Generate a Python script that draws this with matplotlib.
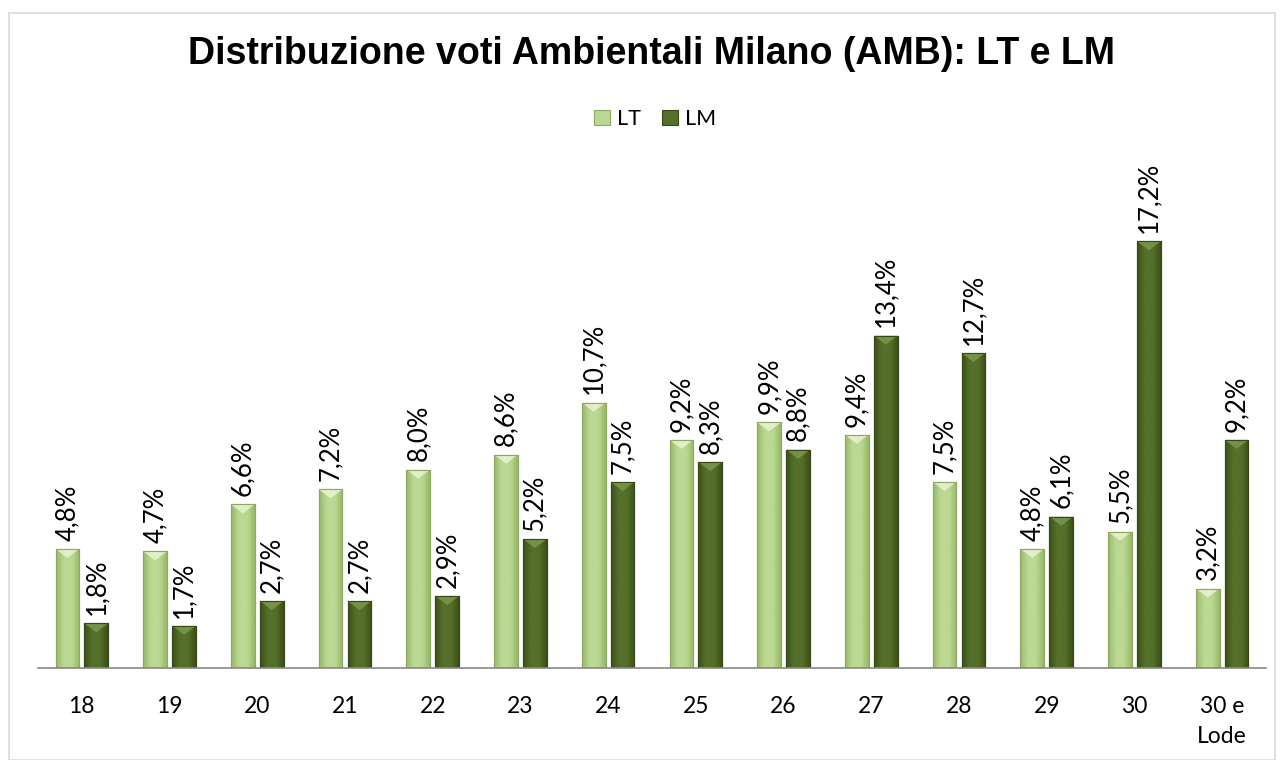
import matplotlib
matplotlib.use("Agg")
import matplotlib.pyplot as plt
import numpy as np
from matplotlib.patches import Polygon, Rectangle
from matplotlib.colors import LinearSegmentedColormap

categories = ["18", "19", "20", "21", "22", "23", "24", "25", "26", "27", "28", "29", "30", "30 e\nLode"]
lt_values = [4.8, 4.7, 6.6, 7.2, 8.0, 8.6, 10.7, 9.2, 9.9, 9.4, 7.5, 4.8, 5.5, 3.2]
lm_values = [1.8, 1.7, 2.7, 2.7, 2.9, 5.2, 7.5, 8.3, 8.8, 13.4, 12.7, 6.1, 17.2, 9.2]
series_names = ["LT", "LM"]
title = "Distribuzione voti Ambientali Milano (AMB): LT e LM"

W, H = 1284, 760
fig = plt.figure(figsize=(W / 100, H / 100), dpi=100)
fig.patch.set_facecolor("white")

# outer chart border
fig.add_artist(Rectangle((9 / W, 0), (1275 - 9) / W, (H - 13) / H, transform=fig.transFigure,
                         fill=False, edgecolor="#D9D9D9", linewidth=1.2))

ax = fig.add_axes([38 / W, (H - 668) / H, (1266 - 38) / W, (668 - 172) / H])
ax.set_xlim(-0.5, len(categories) - 0.5)
ax.set_ylim(0, 20)
for s in ["top", "right", "left"]:
    ax.spines[s].set_visible(False)
ax.spines["bottom"].set_color("#888888")
ax.spines["bottom"].set_linewidth(1.2)
ax.set_yticks([])
ax.set_xticks(np.arange(len(categories)))
ax.set_xticklabels(categories, fontfamily="Lato", fontsize=16.5, linespacing=1.55, va="top")
ax.tick_params(axis="x", length=0, pad=20)

x = np.arange(len(categories))
bw = 0.27
off = 0.165

styles = {
    "LT": dict(center="#BCD994", edge="#98B867", border="#8CA862", chev="#EAF5D6"),
    "LM": dict(center="#55702A", edge="#3B5018", border="#354816", chev="#7E9A50"),
}

def bevel_bars(xs, vals, name):
    st = styles[name]
    bars = ax.bar(xs, vals, width=bw, color=st["center"], edgecolor=st["border"], linewidth=0.8,
                  label=name, zorder=2)
    cmap = LinearSegmentedColormap.from_list(name, [st["edge"], st["center"], st["center"], st["edge"]])
    grad = np.linspace(0, 1, 64).reshape(1, -1)
    for b in bars:
        bx, bwid, bh = b.get_x(), b.get_width(), b.get_height()
        im = ax.imshow(grad, cmap=cmap, aspect="auto", extent=(bx, bx + bwid, 0, bh),
                       zorder=2.1, interpolation="bicubic")
        im.set_clip_path(b)
        dy = 9 * 20 / 496
        tri = Polygon([(bx, bh), (bx + bwid, bh), (bx + bwid * 0.5, bh - dy)], closed=True,
                      facecolor=st["chev"], edgecolor="none", alpha=0.8, zorder=2.2)
        ax.add_patch(tri)
        ax.add_patch(Rectangle((bx, 0), bwid, bh, fill=False, edgecolor=st["border"],
                               linewidth=0.8, zorder=2.3))
        ax.annotate(f"{bh:.1f}%".replace(".", ","), (bx + bwid / 2, bh), xytext=(0, 6),
                    textcoords="offset points", rotation=90, ha="center", va="bottom",
                    fontfamily="Lato", fontsize=18.5, color="black", zorder=3)
    return bars

b1 = bevel_bars(x - off, lt_values, "LT")
b2 = bevel_bars(x + off, lm_values, "LM")
ax.set_xlim(-0.5, len(categories) - 0.5)
ax.set_ylim(0, 20)

fig.text(652 / W, 1 - 54 / H, title, ha="center", va="center", fontfamily="Liberation Sans",
         fontweight="bold", fontsize=27)

leg = fig.legend(handles=[b1, b2], labels=series_names, loc="center", bbox_to_anchor=(655 / W, 1 - 119 / H),
                 ncol=2, frameon=False, prop=dict(family="Lato", size=15.5),
                 handlelength=0.75, handleheight=0.75, handletextpad=0.3, columnspacing=1.0)

fig.savefig("out.png", dpi=100, facecolor="white")
